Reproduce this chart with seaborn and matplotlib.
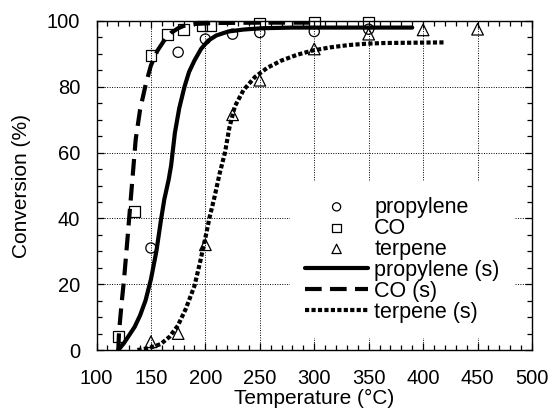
import numpy as np
import pandas as pd
import matplotlib
matplotlib.use("Agg")
import matplotlib.pyplot as plt
import seaborn as sns
from matplotlib.ticker import MultipleLocator

# ---- measured data points ----
prop_T = [150, 175, 200, 225, 250, 300, 350]
prop_X = [31, 90.5, 94.5, 96, 96.5, 96.8, 97.5]

co_T = [120, 135, 150, 165, 180, 197, 205, 250, 300, 350]
co_X = [4, 42, 89.5, 96, 97.5, 98.5, 98.5, 99.3, 99.5, 99.5]

terp_T = [150, 175, 200, 225, 250, 300, 350, 400, 450]
terp_X = [2.5, 5, 32, 71.5, 82, 91.5, 96, 97.3, 97.5]

# ---- simulated curves ----
prop_s_T = [120, 125, 130, 135, 140, 145, 150, 155, 159.3, 162.3, 166.3, 168.5, 172, 176, 180.8, 185, 190, 196, 202.5, 210, 221, 235, 252, 280, 320, 390]
prop_s_X = [0, 2, 4.5, 7, 10.5, 15, 21.5, 30, 39.7, 45.8, 51.8, 56, 66, 73.5, 80, 84.5, 88, 91.5, 94, 95.6, 96.8, 97.4, 97.8, 98, 98, 98]

co_s_T = [120, 120.7, 123, 125.3, 128, 130, 133, 136, 140, 145.4, 150, 156, 162, 168.5, 175, 180, 190, 210, 250, 300]
co_s_X = [0, 5.5, 14, 21.5, 32, 40, 52, 64, 73, 81, 86.5, 91, 94, 96.4, 97.8, 98.5, 99.1, 99.4, 99.5, 99.5]

terp_s_T = [137.6, 145, 152, 159, 167, 174.7, 182, 190, 195, 200.3, 204, 208.6, 213, 218, 222, 227, 235, 245.6, 257, 270, 284, 298, 315, 332, 348, 363, 390, 420]
terp_s_X = [0, 0.4, 1, 1.8, 4, 7.4, 12.5, 19.5, 26.5, 34.6, 40.5, 46.8, 53.5, 60, 67.5, 74, 79, 83, 85.8, 88, 89.7, 91, 92, 92.7, 93.1, 93.3, 93.4, 93.5]

sns.set_style("ticks")
plt.rcParams['font.family'] = ['Liberation Sans', 'DejaVu Sans']
plt.rcParams['text.color'] = 'black'
plt.rcParams['axes.labelcolor'] = 'black'
plt.rcParams['xtick.color'] = 'black'
plt.rcParams['ytick.color'] = 'black'

fig = plt.figure(figsize=(5.51, 4.12), dpi=100)
ax = fig.add_axes([96.5/551, 1-350/412, (532-96.5)/551, (350-21)/412])

# curves
sns.lineplot(x=prop_s_T, y=prop_s_X, ax=ax, color='black', lw=3.0, label='propylene (s)',
             sort=False, estimator=None, zorder=3)
sns.lineplot(x=co_s_T, y=co_s_X, ax=ax, color='black', lw=3.0, label='CO (s)',
             sort=False, estimator=None, zorder=3)
sns.lineplot(x=terp_s_T, y=terp_s_X, ax=ax, color='black', lw=3.0, label='terpene (s)',
             sort=False, estimator=None, zorder=3)
lines = ax.get_lines()
lines[1].set_dashes((4.0, 2.0))
lines[2].set_dashes((1.0, 0.55))

# markers
sns.scatterplot(x=prop_T, y=prop_X, ax=ax, marker='o', s=54, facecolor='none',
                edgecolor='black', linewidth=0.9, label='propylene', zorder=4, clip_on=False)
sns.scatterplot(x=co_T, y=co_X, ax=ax, marker='s', s=60, facecolor='none',
                edgecolor='black', linewidth=0.9, label='CO', zorder=4, clip_on=False)
sns.scatterplot(x=terp_T, y=terp_X, ax=ax, marker='^', s=70, facecolor='none',
                edgecolor='black', linewidth=0.9, label='terpene', zorder=4, clip_on=False)

ax.set_xlim(100, 500)
ax.set_ylim(0, 100)
ax.xaxis.set_major_locator(MultipleLocator(50))
ax.xaxis.set_minor_locator(MultipleLocator(10))
ax.yaxis.set_major_locator(MultipleLocator(20))
ax.yaxis.set_minor_locator(MultipleLocator(5))

ax.grid(True, which='major', color='black', linestyle=(0, (1, 1.5)), linewidth=0.7)
ax.tick_params(which='both', direction='in', top=True, right=True, color='black',
               labelcolor='black', width=0.9)
ax.tick_params(which='major', length=5)
ax.tick_params(which='minor', length=3.5)
ax.tick_params(axis='x', which='major', pad=13.5, labelsize=14.5)
ax.tick_params(axis='y', which='major', pad=11.8, labelsize=14.5)
for s in ax.spines.values():
    s.set_visible(True)
    s.set_color('black')
    s.set_linewidth(1.0)

ax.set_xlabel('Temperature (°C)', fontsize=15, labelpad=1, color='black')
ax.set_ylabel('Conversion (%)', fontsize=15, labelpad=11, color='black')

handles, labels = ax.get_legend_handles_labels()
order = ['propylene', 'CO', 'terpene', 'propylene (s)', 'CO (s)', 'terpene (s)']
hmap = dict(zip(labels, handles))
leg = ax.legend([hmap[k] for k in order], order, loc='lower right',
                bbox_to_anchor=(0.985, 0.005), fontsize=15.5, frameon=True,
                facecolor='white', edgecolor='none', framealpha=1.0, fancybox=False,
                handlelength=2.9, handletextpad=0.3, labelspacing=0.0,
                borderpad=0.7, markerscale=0.8, labelcolor='black')
leg.set_zorder(2)

fig.savefig('out.png', dpi=100)
